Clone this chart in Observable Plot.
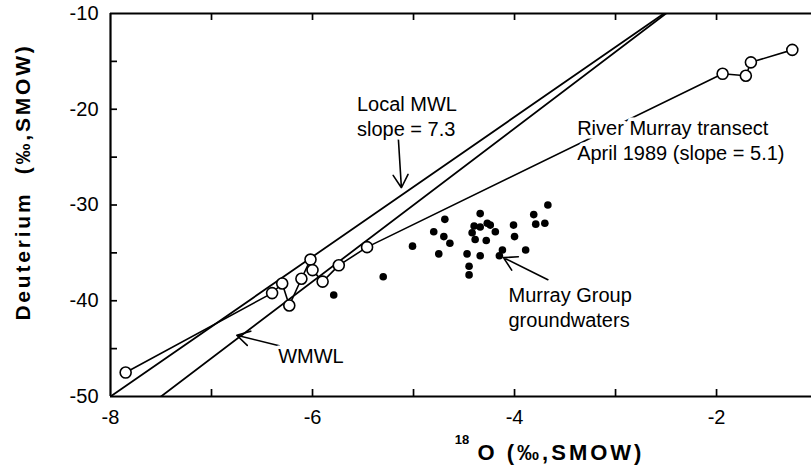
<!DOCTYPE html>
<html>
<head>
<meta charset="utf-8">
<script src="https://cdn.jsdelivr.net/npm/d3@7"></script>
<script src="https://cdn.jsdelivr.net/npm/@observablehq/plot@0.6"></script>
<style>
  html, body { margin: 0; padding: 0; background: #fff; }
  #chart svg { display: block; }
</style>
</head>
<body>
<div id="chart"></div>
<script>
// ---- Data ----
const xDomain = [-8, -1.06];
const yDomain = [-50, -10];
const xLabelTicks = [-8, -6, -4, -2];
const xInnerTicks = [-7, -6, -5, -4, -3, -2];
const yLabelTicks = [-10, -20, -30, -40, -50];
const yInnerTicks = [-45, -40, -35, -30, -25, -20, -15];

// River Murray transect, April 1989 (open circles)
const riverO18 = [-7.85, -6.40, -6.30, -6.23, -6.11, -6.02, -6.00, -5.90, -5.74, -5.46, -1.94, -1.71, -1.66, -1.25];
const riverD   = [-47.5, -39.2, -38.2, -40.5, -37.7, -35.7, -36.8, -38.0, -36.3, -34.4, -16.3, -16.5, -15.1, -13.8];

// Murray Group groundwaters (filled dots)
const gwO18 = [-5.79, -5.30, -5.01, -4.80, -4.70, -4.64, -4.75, -4.69, -4.47, -4.45, -4.45, -4.34, -4.34, -4.40, -4.34, -4.27, -4.24, -4.42, -4.39, -4.28, -4.19, -4.12, -4.15, -4.01, -4.00, -3.89, -3.81, -3.79, -3.70, -3.67];
const gwD   = [-39.4, -37.5, -34.3, -32.8, -33.3, -34.0, -35.1, -31.5, -35.1, -36.4, -37.3, -35.3, -30.9, -32.2, -32.3, -31.9, -32.1, -32.9, -33.6, -33.7, -32.8, -34.7, -35.3, -32.1, -33.3, -34.7, -31.0, -32.0, -31.9, -30.0];

// Meteoric water lines (slope, intercept)
const lineNames = ["Local MWL", "WMWL"];
const lineSlopes = [7.3, 8];
const lineIntercepts = [8.4, 10];

// Annotations
const labelTexts = ["Local MWL\nslope = 7.3", "River Murray transect\nApril 1989 (slope = 5.1)", "Murray Group\ngroundwaters", "WMWL"];
const labelX = [-5.56, -3.38, -4.06, -6.34];
const labelY = [-20.7, -23.2, -40.6, -45.7];
const arrowX1 = [-5.15, -3.67, -6.33];
const arrowY1 = [-23.1, -37.8, -44.7];
const arrowX2 = [-5.12, -4.11, -6.75];
const arrowY2 = [-28.2, -35.5, -43.6];

// ---- Tables built from the arrays ----
const river = riverO18.map((x, i) => ({x, y: riverD[i]}));
const gw = gwO18.map((x, i) => ({x, y: gwD[i]}));
const mwl = lineNames.flatMap((name, i) => xDomain.map(x => ({name, x, y: lineSlopes[i] * x + lineIntercepts[i]})));
const labels = labelTexts.map((t, i) => ({t, x: labelX[i], y: labelY[i]}));
const arrows = arrowX1.map((x1, i) => ({x1, y1: arrowY1[i], x2: arrowX2[i], y2: arrowY2[i]}));

const W = 811, H = 467;
const M = {left: 110, right: 0, top: 13, bottom: 71};
const TICK = 7; // inward tick length in px
const plotH = H - M.top - M.bottom;
const plotW = W - M.left - M.right;

const FONT = "'Liberation Sans', Arial, Helvetica, sans-serif";

const chart = Plot.plot({
  width: W,
  height: H,
  marginLeft: M.left,
  marginRight: M.right,
  marginTop: M.top,
  marginBottom: M.bottom,
  x: {domain: xDomain},
  y: {domain: yDomain},
  style: {fontFamily: FONT, background: "#fff", color: "#000", overflow: "visible"},
  marks: [
    // inward ticks (rules inset down to short stubs at the frame edges)
    Plot.ruleX(xInnerTicks, {x: d => d, insetTop: plotH - TICK, stroke: "#000", strokeWidth: 1.7}),
    Plot.ruleX(xInnerTicks, {x: d => d, insetBottom: plotH - TICK, stroke: "#000", strokeWidth: 1.7}),
    Plot.ruleY(yInnerTicks, {y: d => d, insetRight: plotW - TICK, stroke: "#000", strokeWidth: 1.7}),
    // frame (left, top, bottom)
    Plot.ruleX([xDomain[0]], {stroke: "#000", strokeWidth: 2.2}),
    Plot.ruleY(yDomain, {stroke: "#000", strokeWidth: 2.2}),
    // tick labels
    Plot.axisX(xLabelTicks, {anchor: "bottom", tickSize: 0, tickPadding: 13, label: null, fontSize: 20, tickFormat: d => d}),
    Plot.axisY(yLabelTicks, {anchor: "left", tickSize: 0, tickPadding: 12, label: null, fontSize: 20, tickFormat: d => d}),
    // meteoric water lines
    Plot.line(mwl, {x: "x", y: "y", z: "name", stroke: "#000", strokeWidth: 1.8, clip: true}),
    // River Murray transect
    Plot.line(river, {x: "x", y: "y", stroke: "#000", strokeWidth: 1.6}),
    Plot.dot(river, {x: "x", y: "y", r: 5.5, fill: "#fff", stroke: "#000", strokeWidth: 1.6}),
    // groundwaters
    Plot.dot(gw, {x: "x", y: "y", r: 3.8, fill: "#000", stroke: "none"}),
    // arrows
    Plot.arrow(arrows, {x1: "x1", y1: "y1", x2: "x2", y2: "y2", stroke: "#000", strokeWidth: 1.6, headLength: 14, headAngle: 60}),
    // annotation labels
    Plot.text(labels, {x: "x", y: "y", text: "t", textAnchor: "start", fontSize: 20, lineHeight: 1.25, fill: "#000", stroke: "#fff", strokeWidth: 7}),
    // axis titles
    Plot.text(["Deuterium  (\u2030,SMOW)"], {frameAnchor: "left", textAnchor: "middle", lineAnchor: "middle", rotate: -90, dx: -87, dy: -23, fontSize: 21, fontWeight: "bold", fill: "#000"}),
    Plot.text(["O (\u2030,SMOW)"], {frameAnchor: "bottom", textAnchor: "middle", lineAnchor: "middle", dx: 100, dy: 56, fontSize: 22, fontWeight: "bold", fill: "#000"}),
    Plot.text(["18"], {frameAnchor: "bottom", textAnchor: "middle", lineAnchor: "middle", dx: 1, dy: 43, fontSize: 13, fontWeight: "bold", fill: "#000"})
  ]
});

const svgSel = d3.select(chart);
svgSel.selectAll("text")
  .filter(function() { return this.textContent.startsWith("Deuterium"); })
  .style("letter-spacing", "2.8px")
  .style("white-space", "pre");
svgSel.selectAll("text")
  .filter(function() { return this.textContent.startsWith("O ("); })
  .style("letter-spacing", "3px");
document.getElementById("chart").appendChild(chart);
</script>
</body>
</html>
